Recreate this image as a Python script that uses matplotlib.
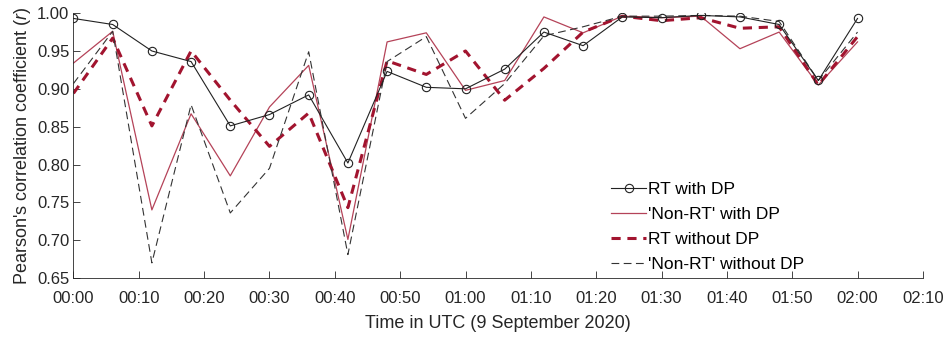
import numpy as np
import matplotlib

matplotlib.use("Agg")
import matplotlib.pyplot as plt
from matplotlib.ticker import FuncFormatter, MultipleLocator

plt.rcParams["font.family"] = ["Liberation Sans", "DejaVu Sans"]
plt.rcParams["mathtext.fontset"] = "custom"
plt.rcParams["mathtext.it"] = "Liberation Sans:italic"
plt.rcParams["mathtext.rm"] = "Liberation Sans"

# minutes after 00:00 UTC, one sample every 6 minutes
minutes = np.arange(0, 121, 6)

rt_dp = [0.993, 0.985, 0.950, 0.936, 0.851, 0.866, 0.892, 0.802, 0.923, 0.902, 0.900,
         0.926, 0.975, 0.957, 0.995, 0.994, 0.997, 0.995, 0.985, 0.911, 0.993]
nonrt_dp = [0.934, 0.976, 0.740, 0.867, 0.785, 0.876, 0.931, 0.701, 0.962, 0.974, 0.898,
            0.911, 0.995, 0.974, 0.996, 0.994, 0.996, 0.953, 0.975, 0.905, 0.962]
rt_nodp = [0.894, 0.967, 0.851, 0.950, 0.885, 0.824, 0.868, 0.743, 0.937, 0.919, 0.950,
           0.885, 0.927, 0.975, 0.996, 0.990, 0.994, 0.980, 0.982, 0.905, 0.969]
nonrt_nodp = [0.907, 0.976, 0.670, 0.879, 0.736, 0.795, 0.949, 0.681, 0.936, 0.969, 0.861,
              0.907, 0.970, 0.982, 0.996, 0.996, 0.997, 0.996, 0.989, 0.911, 0.975]

crimson = "#A2142F"
ink = "#262626"

fig = plt.figure(figsize=(9.48, 3.37), dpi=100)
ax = fig.add_axes([0.0775, 0.175, 0.896, 0.786])

ax.plot(minutes, rt_dp, "-", color="#222222", lw=0.8, marker="o", ms=6,
        mfc="none", mec="#222222", mew=0.8, label="RT with DP", zorder=5)
ax.plot(minutes, nonrt_dp, "-", color=crimson, lw=0.9, alpha=0.8,
        label="'Non-RT' with DP")
ax.plot(minutes, rt_nodp, "--", color=crimson, lw=2.2, dashes=(3, 2.2),
        label="RT without DP")
ax.plot(minutes, nonrt_nodp, "--", color="#333333", lw=0.8, dashes=(7, 4),
        label="'Non-RT' without DP")

ax.set_xlim(0, 130)
ax.set_ylim(0.65, 1.0)
ax.xaxis.set_major_locator(MultipleLocator(10))
ax.yaxis.set_major_locator(MultipleLocator(0.05))
ax.xaxis.set_major_formatter(FuncFormatter(lambda v, p: f"{int(v) // 60:02d}:{int(v) % 60:02d}"))
ax.yaxis.set_major_formatter(FuncFormatter(lambda v, p: f"{v:.2f}"))
ax.tick_params(direction="in", length=5, width=0.6, labelsize=12, colors=ink)
ax.tick_params(axis="x", pad=9)
ax.tick_params(axis="y", pad=3)

for side in ["top", "right"]:
    ax.spines[side].set_visible(False)
for side in ["left", "bottom"]:
    ax.spines[side].set_linewidth(0.6)
    ax.spines[side].set_color(ink)

ax.set_xlabel("Time in UTC (9 September 2020)", fontsize=13, color=ink, labelpad=7)
ax.set_ylabel("Pearson's correlation coefficient ($r$)", fontsize=13, color=ink, labelpad=3)

ax.legend(loc="lower left", bbox_to_anchor=(0.615, -0.036), frameon=False, fontsize=12.5,
          handlelength=2.0, handletextpad=0.1, labelspacing=0.565)

fig.savefig("out.png", dpi=100)
